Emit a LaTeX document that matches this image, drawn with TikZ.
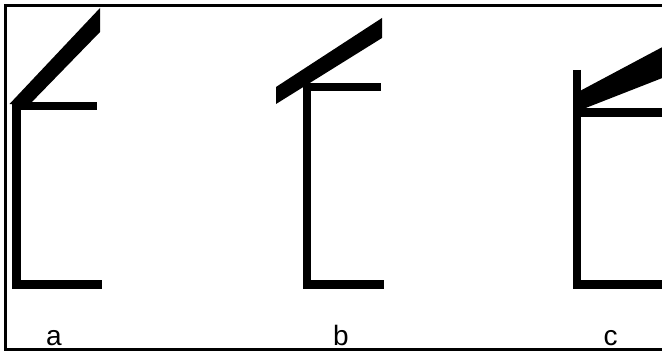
\documentclass[tikz,border=0pt]{standalone}
\usepackage{fontspec}
\setmainfont{Liberation Sans}
\begin{document}
\begin{tikzpicture}[x=1pt,y=-1pt,
  framestyle/.style={line width=3pt,black},
  beam/.style={line width=8.5pt,black,line join=miter},
  roof/.style={fill=black},
  lbl/.style={font=\fontsize{28}{30}\selectfont,anchor=base,inner sep=0pt}]
\useasboundingbox (0,0) rectangle (662,352);
\clip (0,0) rectangle (662,352);
% frame
\draw[framestyle] (662,6) -- (5,6) -- (5,350) -- (662,350);
% panel a
\draw[beam] (16.7,101) -- (16.7,284.5) -- (102,284.5);
\draw[beam] (16.7,106) -- (97,106);
\fill[roof] (9.5,104) -- (100,8) -- (100,32) -- (28,106) -- cycle;
% panel b
\draw[beam] (307,83) -- (307,284.5) -- (384,284.5);
\draw[beam] (307,87) -- (381,87);
\fill[roof] (276,87) -- (382,18) -- (382,38) -- (276,104) -- cycle;
% panel c
\draw[beam] (577,70) -- (577,284.5) -- (670,284.5);
\draw[beam] (577,112.5) -- (670,112.5);
\fill[roof] (578,92) -- (670,43) -- (670,75) -- (578,111) -- cycle;
% labels
\node[lbl] (la) at (54,346) {a};
\node[lbl] (lb) at (341,346) {b};
\node[lbl] (lc) at (610.5,346) {c};
\end{tikzpicture}
\end{document}
